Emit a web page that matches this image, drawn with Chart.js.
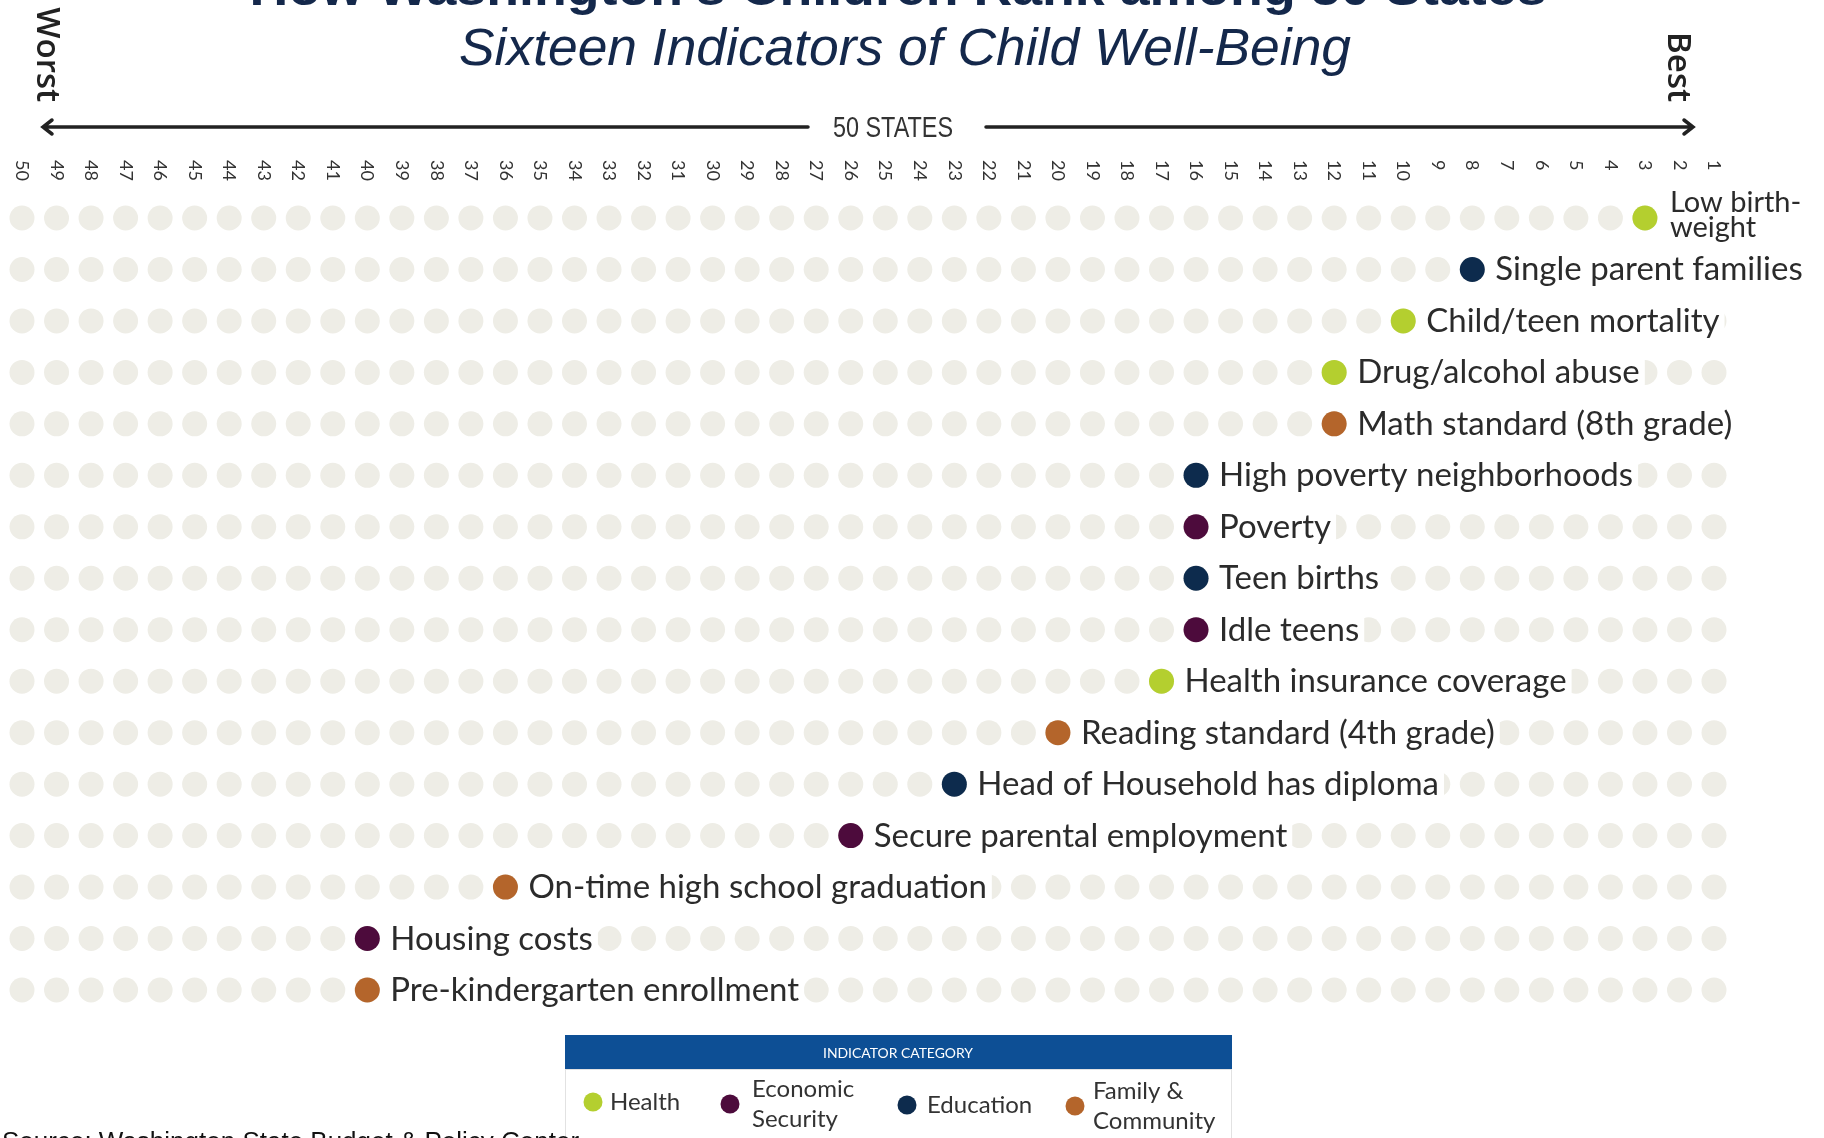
<!DOCTYPE html>
<html>
<head>
<meta charset="utf-8">
<title>How Washington's Children Rank among 50 States</title>
<script src="https://cdn.jsdelivr.net/npm/chart.js@4.4.1/dist/chart.umd.min.js"></script>
<style>
  html, body { margin: 0; padding: 0; background: #fff; overflow: hidden; }
  #wrap { width: 1824px; height: 1138px; position: relative; }
</style>
</head>
<body>
<div id="wrap"><canvas id="rankChart"></canvas></div>
<script>
// state rank columns, worst (50) on the left, best (1) on the right
const stateRanks = [50, 49, 48, 47, 46, 45, 44, 43, 42, 41, 40, 39, 38, 37, 36, 35, 34, 33, 32, 31, 30, 29, 28, 27, 26,
                    25, 24, 23, 22, 21, 20, 19, 18, 17, 16, 15, 14, 13, 12, 11, 10, 9, 8, 7, 6, 5, 4, 3, 2, 1];

const indicators = [
    'Low birth-weight',
    'Single parent families',
    'Child/teen mortality',
    'Drug/alcohol abuse',
    'Math standard (8th grade)',
    'High poverty neighborhoods',
    'Poverty',
    'Teen births',
    'Idle teens',
    'Health insurance coverage',
    'Reading standard (4th grade)',
    'Head of Household has diploma',
    'Secure parental employment',
    'On-time high school graduation',
    'Housing costs',
    'Pre-kindergarten enrollment'
];

// Washington's rank on each indicator
const waRanks = [3, 8, 10, 12, 12, 16, 16, 16, 16, 17, 20, 23, 26, 36, 40, 40];

const categories = ['Health', 'Economic Security', 'Education', 'Family & Community'];
const categoryColors = ['#b4cf2f', '#4d0b3c', '#0d2b4d', '#b4652b'];

const indicatorCategory = [
    'Health', 'Education', 'Health', 'Health', 'Family & Community', 'Education',
    'Economic Security', 'Education', 'Economic Security', 'Health', 'Family & Community',
    'Education', 'Economic Security', 'Family & Community', 'Economic Security', 'Family & Community'
];

const colorOf = (cat) => categoryColors[categories.indexOf(cat)];

// every (rank, indicator) slot is a grey dot
const gridPoints = [];
indicators.forEach(name => {
    stateRanks.forEach(r => gridPoints.push({ x: r, y: name }));
});

const waPoints = indicators.map((name, i) => ({ x: waRanks[i], y: name }));

const labelFont = '"Lato", "Open Sans", sans-serif';

function rotatedText(ctx, text, x, y, align) {
    ctx.save();
    ctx.translate(x, y);
    ctx.rotate(Math.PI / 2);
    ctx.textAlign = align;
    ctx.textBaseline = 'middle';
    ctx.fillText(text, 0, 0);
    ctx.restore();
}

function fitText(ctx, text, cx, y, width) {
    const w = ctx.measureText(text).width;
    ctx.save();
    ctx.translate(cx, y);
    ctx.scale(width / w, 1);
    ctx.textAlign = 'center';
    ctx.fillText(text, 0, 0);
    ctx.restore();
}

const decorations = {
    id: 'decorations',
    beforeDatasetsDraw(chart) {
        const ctx = chart.ctx;
        const xs = chart.scales.x;

        // cut-off main title
        ctx.save();
        ctx.fillStyle = '#14284b';
        ctx.font = 'bold 50px "Liberation Sans", Arial, sans-serif';
        ctx.textBaseline = 'alphabetic';
        fitText(ctx, "How Washington's Children Rank among 50 States", 898, 5, 1297);

        // subtitle
        ctx.font = 'italic 51px "Liberation Sans", Arial, sans-serif';
        fitText(ctx, 'Sixteen Indicators of Child Well-Being', 905, 65, 892);

        // Worst / Best
        ctx.fillStyle = '#222';
        ctx.font = '600 33px "Open Sans", "Liberation Sans", sans-serif';
        rotatedText(ctx, 'Worst', 46, 102, 'right');
        rotatedText(ctx, 'Best', 1677, 102, 'right');

        // 50 STATES arrow
        ctx.strokeStyle = '#222';
        ctx.lineWidth = 3.5;
        ctx.lineCap = 'round';
        ctx.beginPath();
        ctx.moveTo(43, 127); ctx.lineTo(808, 127);
        ctx.moveTo(986, 127); ctx.lineTo(1693, 127);
        ctx.moveTo(52, 120); ctx.lineTo(43, 127); ctx.lineTo(52, 134);
        ctx.moveTo(1684, 120); ctx.lineTo(1693, 127); ctx.lineTo(1684, 134);
        ctx.stroke();
        ctx.fillStyle = '#333';
        ctx.font = '29px "Liberation Sans", Arial, sans-serif';
        ctx.textBaseline = 'alphabetic';
        fitText(ctx, '50 STATES', 893, 137, 120);

        // rank numbers above the columns
        ctx.fillStyle = '#333';
        ctx.font = '18px ' + labelFont;
        stateRanks.forEach(r => rotatedText(ctx, String(r), xs.getPixelForValue(r), 160, 'left'));
        ctx.restore();
    },
    afterDatasetsDraw(chart) {
        const ctx = chart.ctx;
        const xs = chart.scales.x;
        const ys = chart.scales.y;
        ctx.save();

        // indicator labels next to Washington's dot
        indicators.forEach((name, i) => {
            const px = xs.getPixelForValue(waRanks[i]);
            const py = ys.getPixelForValue(i);
            if (name === 'Low birth-weight') {
                ctx.font = '29px ' + labelFont;
                const lines = ['Low birth-', 'weight'];
                const w = Math.max(...lines.map(l => ctx.measureText(l).width));
                ctx.fillStyle = '#fff';
                ctx.fillRect(px + 14, py - 30, w + 16, 58);
                ctx.fillStyle = '#2b2b2b';
                ctx.fillText(lines[0], px + 25, py - 6);
                ctx.fillText(lines[1], px + 25, py + 19);
            } else {
                ctx.font = '33px ' + labelFont;
                const w = ctx.measureText(name).width;
                ctx.fillStyle = '#fff';
                ctx.fillRect(px + 14, py - 20, w + 14, 40);
                ctx.fillStyle = '#2b2b2b';
                ctx.fillText(name, px + 23, py + 11);
            }
        });

        // legend box
        ctx.fillStyle = '#0d4f95';
        ctx.fillRect(565, 1035, 667, 34);
        ctx.fillStyle = '#fff';
        ctx.font = '14px ' + labelFont;
        ctx.textBaseline = 'middle';
        fitText(ctx, 'INDICATOR CATEGORY', 898, 1053, 150);
        ctx.strokeStyle = '#e2e2e2';
        ctx.lineWidth = 1;
        ctx.strokeRect(565.5, 1069.5, 666, 90);

        const legendPos = [
            { dot: 593, text: 610, y: 1102 },
            { dot: 730, text: 752, y: 1104 },
            { dot: 907, text: 927, y: 1105 },
            { dot: 1075, text: 1093, y: 1106 }
        ];
        const legendLines = categories.map(c => {
            if (c === 'Economic Security') return ['Economic', 'Security'];
            if (c === 'Family & Community') return ['Family &', 'Community'];
            return [c];
        });
        ctx.font = '24px ' + labelFont;
        categories.forEach((c, i) => {
            const p = legendPos[i];
            ctx.fillStyle = categoryColors[i];
            ctx.beginPath();
            ctx.arc(p.dot, p.y, 9.5, 0, Math.PI * 2);
            ctx.fill();
            ctx.fillStyle = '#333';
            const lines = legendLines[i];
            if (lines.length === 1) {
                ctx.fillText(lines[0], p.text, p.y);
            } else {
                ctx.fillText(lines[0], p.text, p.y - 15);
                ctx.fillText(lines[1], p.text, p.y + 15);
            }
        });

        // source line, cut by the bottom edge
        ctx.fillStyle = '#111';
        ctx.font = '26px "Liberation Sans", Arial, sans-serif';
        ctx.textBaseline = 'alphabetic';
        ctx.textAlign = 'left';
        ctx.fillText('Source: Washington State Budget & Policy Center', 2, 1150);
        ctx.restore();
    }
};

new Chart(document.getElementById('rankChart'), {
    type: 'scatter',
    data: {
        datasets: [
            {
                label: 'Washington',
                data: waPoints,
                pointRadius: 12.5,
                pointHoverRadius: 12.5,
                pointBorderWidth: 0,
                pointBackgroundColor: indicatorCategory.map(colorOf),
                clip: false
            },
            {
                label: 'All states',
                data: gridPoints,
                pointRadius: 12.5,
                pointHoverRadius: 12.5,
                pointBorderWidth: 0,
                pointBackgroundColor: '#eeede6',
                clip: false
            }
        ]
    },
    options: {
        responsive: true,
        maintainAspectRatio: false,
        animation: false,
        events: [],
        layout: { padding: { left: 22, right: 110, top: 218, bottom: 148 } },
        scales: {
            x: { type: 'linear', reverse: true, min: 1, max: 50, display: false },
            y: { type: 'category', labels: indicators, offset: false, display: false }
        },
        plugins: {
            legend: { display: false },
            tooltip: { enabled: false },
            title: { display: false }
        }
    },
    plugins: [decorations]
});
</script>
</body>
</html>
